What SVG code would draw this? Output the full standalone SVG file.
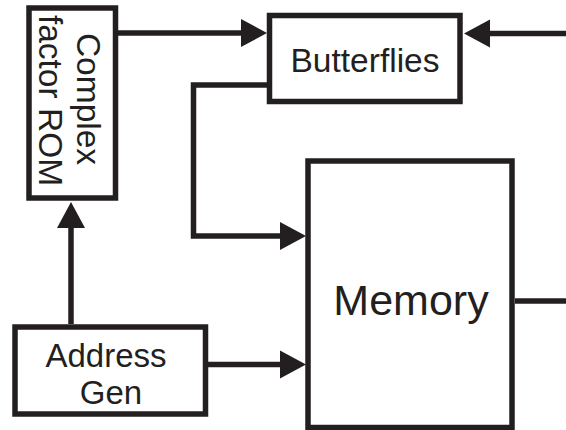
<svg xmlns="http://www.w3.org/2000/svg" width="566" height="430" viewBox="0 0 566 430">
  <style>
    .box { fill: #ffffff; stroke: #231f20; stroke-width: 5.5; }
    .wire { fill: none; stroke: #231f20; stroke-width: 5.5; stroke-linejoin: miter; stroke-linecap: butt; }
    .label { font-family: "Liberation Sans", Arial, Helvetica, sans-serif; fill: #231f20; text-anchor: middle; }
  </style>
  <defs>
    <!-- solid triangular arrowhead, anchored at its base -->
    <marker id="arrow" markerUnits="userSpaceOnUse" markerWidth="26" markerHeight="28" viewBox="0 -14 26 28" refX="0" refY="0" orient="auto" overflow="visible">
      <path d="M0,-14 L26,0 L0,14 Z" fill="#231f20"/>
    </marker>
  </defs>
  <rect width="566" height="430" fill="#ffffff"/>

  <g id="connectors">
    <!-- ROM to butterflies -->
    <line class="wire" x1="118" y1="33" x2="241" y2="33" marker-end="url(#arrow)"/>
    <!-- external input into butterflies -->
    <line class="wire" x1="566" y1="33.5" x2="490" y2="33.5" marker-end="url(#arrow)"/>
    <!-- butterflies back into memory -->
    <polyline class="wire" points="269.5,85 193.5,85 193.5,236 280,236" marker-end="url(#arrow)"/>
    <!-- address generator to ROM -->
    <line class="wire" x1="71" y1="324" x2="71" y2="228" marker-end="url(#arrow)"/>
    <!-- address generator to memory -->
    <line class="wire" x1="208" y1="364.5" x2="280" y2="364.5" marker-end="url(#arrow)"/>
    <!-- memory output -->
    <line class="wire" x1="515" y1="301" x2="566" y2="301"/>
  </g>

  <g id="rom">
    <rect class="box" x="29" y="8" width="86.5" height="190"/>
    <g transform="translate(0,100.5) rotate(90)">
      <text class="label" x="-1.5" y="-77" font-size="33.5">Complex</text>
      <text class="label" x="0" y="-39" font-size="33.5">factor ROM</text>
    </g>
  </g>

  <g id="butterflies">
    <rect class="box" x="269.5" y="15.5" width="190.5" height="86"/>
    <text class="label" x="365" y="71.5" font-size="33.5">Butterflies</text>
  </g>

  <g id="memory">
    <rect class="box" x="308" y="161" width="204" height="266.5"/>
    <text class="label" x="411" y="315" font-size="43">Memory</text>
  </g>

  <g id="address-gen">
    <rect class="box" x="15" y="327" width="190.5" height="87"/>
    <text class="label" x="106" y="366.5" font-size="33">Address</text>
    <text class="label" x="111" y="404" font-size="33">Gen</text>
  </g>
</svg>
